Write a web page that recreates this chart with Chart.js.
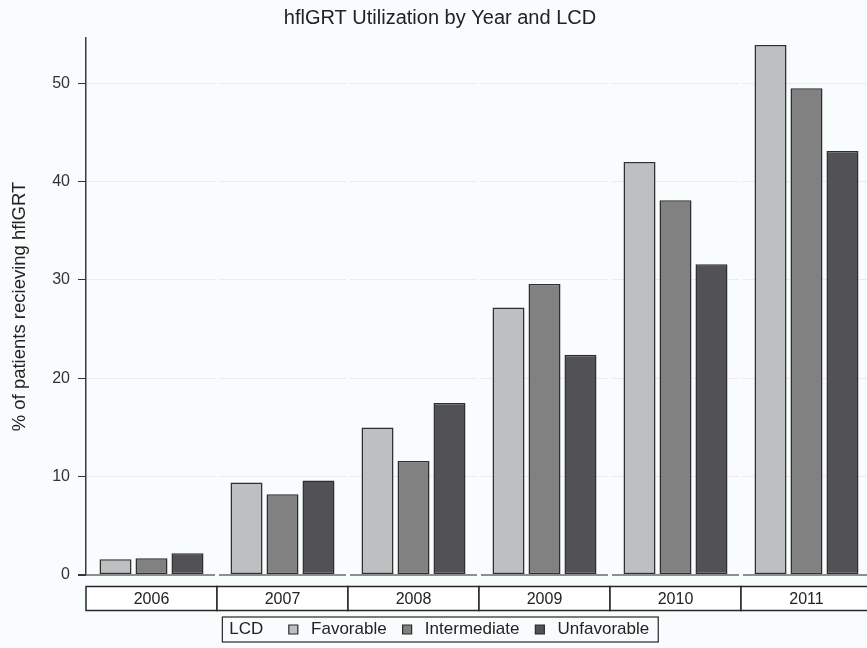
<!DOCTYPE html>
<html><head><meta charset="utf-8">
<script src="https://cdn.jsdelivr.net/npm/chart.js@4"></script>
<style>html,body{margin:0;padding:0;overflow:hidden;background:#f9fcfd;width:867px;height:648px}canvas{display:block}</style>
</head><body>
<canvas id="c" width="880" height="648"></canvas>
<script>
const years = ['2006', '2007', '2008', '2009', '2010', '2011'];
const favorable = [1.6, 9.4, 15.0, 27.2, 42.0, 53.9];
const intermediate = [1.7, 8.2, 11.6, 29.6, 38.1, 49.5];
const unfavorable = [2.2, 9.6, 17.5, 22.4, 31.6, 43.1];
const seriesNames = ['Favorable', 'Intermediate', 'Unfavorable'];
const legendTitle = 'LCD';
const yTicks = [0, 10, 20, 30, 40, 50];
const yMax = 54.6;

const BG = '#f9fcfd';
const FONT = 'Liberation Sans, Arial, sans-serif';
const colors = ['#bcc0c0', '#818181', '#525256'];
const outline = '#2e2e2e';
const LEGEND_FONT = 17;
const TRAIL = '    ';

const backgroundPlugin = {
  id: 'bgAndBoxes',
  beforeDraw(chart) {
    const ctx = chart.ctx;
    ctx.save();
    ctx.fillStyle = BG;
    ctx.fillRect(0, 0, chart.width, chart.height);
    const x = chart.scales.x;
    const step = x.getPixelForValue(1) - x.getPixelForValue(0);
    const top = chart.chartArea.bottom + 11.5, h = 24;
    ctx.lineWidth = 1.5;
    ctx.strokeStyle = '#262626';
    ctx.fillStyle = '#ffffff';
    years.forEach((y, i) => {
      const c = x.getPixelForValue(i);
      ctx.fillRect(c - step / 2, top, step, h);
      ctx.strokeRect(c - step / 2, top, step, h);
    });
    ctx.restore();
  }
};

const gapPlugin = {
  id: 'gaps',
  beforeDatasetsDraw(chart) {
    const ctx = chart.ctx;
    const x = chart.scales.x;
    const a = chart.chartArea;
    ctx.save();
    ctx.fillStyle = BG;
    for (let i = 1; i < years.length; i++) {
      const bx = (x.getPixelForValue(i - 1) + x.getPixelForValue(i)) / 2;
      ctx.fillRect(bx - 2, a.top, 4, a.bottom - a.top + 3);
    }
    ctx.restore();
  }
};

const legendFrame = {
  id: 'legendFrame',
  afterDraw(chart) {
    const lg = chart.legend;
    if (!lg || !lg.legendHitBoxes || !lg.legendHitBoxes.length) return;
    const hb = lg.legendHitBoxes;
    const first = hb[0], last = hb[hb.length - 1];
    const ctx = chart.ctx;
    ctx.save();
    ctx.font = LEGEND_FONT + 'px ' + FONT;
    const trailW = ctx.measureText(TRAIL).width;
    ctx.strokeStyle = '#262626';
    ctx.lineWidth = 1.2;
    const left = first.left + 10.5;
    const right = last.left + last.width - trailW + 9;
    const cy = first.top + LEGEND_FONT / 2;
    const top = cy - 12.5;
    const bottom = cy + 12.5;
    ctx.strokeRect(left, top, right - left, bottom - top);
    ctx.restore();
  }
};

new Chart(document.getElementById('c'), {
  type: 'bar',
  data: {
    labels: years,
    datasets: [
      { label: seriesNames[0], data: favorable, backgroundColor: colors[0] },
      { label: seriesNames[1], data: intermediate, backgroundColor: colors[1] },
      { label: seriesNames[2], data: unfavorable, backgroundColor: colors[2] }
    ].map(d => Object.assign(d, {
      borderColor: outline, borderWidth: 1.5, borderSkipped: false,
      categoryPercentage: 0.824, barPercentage: 0.89
    }))
  },
  options: {
    responsive: false,
    animation: false,
    devicePixelRatio: 1,
    layout: { padding: { top: 0, right: 8, bottom: 0, left: 8 } },
    plugins: {
      tooltip: { enabled: false },
      title: {
        display: true,
        text: 'hflGRT Utilization by Year and LCD',
        color: '#222',
        font: { family: FONT, size: 20, weight: 'normal' },
        padding: { top: 6, bottom: 8 }
      },
      legend: {
        position: 'bottom',
        onClick: () => {},
        labels: {
          boxWidth: 9, boxHeight: 9, padding: 16,
          color: '#222',
          font: { family: FONT, size: LEGEND_FONT },
          generateLabels: (chart) => {
            const items = [{ text: legendTitle + '  ', fillStyle: 'rgba(0,0,0,0)', strokeStyle: 'rgba(0,0,0,0)', lineWidth: 0, hidden: false, datasetIndex: -1, fontColor: '#222' }];
            const n = chart.data.datasets.length;
            chart.data.datasets.forEach((ds, i) => items.push({
              text: ' ' + ds.label + (i === n - 1 ? TRAIL : ''), fillStyle: ds.backgroundColor, strokeStyle: '#2b2b2b', lineWidth: 1.2, hidden: false, datasetIndex: i, fontColor: '#222'
            }));
            return items;
          }
        }
      }
    },
    scales: {
      x: {
        grid: { display: false, drawTicks: false },
        border: { display: false },
        ticks: { color: '#222', font: { family: FONT, size: 16 }, padding: 15, maxRotation: 0 },
        afterFit: s => { s.height = 30; }
      },
      y: {
        min: 0,
        max: yMax,
        afterBuildTicks: s => { s.ticks = yTicks.map(v => ({ value: v })); },
        afterFit: s => { s.width = 78; },
        grid: {
          color: c => (c.tick && c.tick.value === 0) ? '#8e8e8e' : '#f0e8ef',
          lineWidth: c => (c.tick && c.tick.value === 0) ? 2 : 1,
          tickColor: '#333',
          tickLength: 8,
          drawTicks: true
        },
        border: { display: true, color: '#3a3a3a', width: 1.5 },
        ticks: { color: '#333', font: { family: FONT, size: 16 }, padding: 8 },
        title: {
          display: true,
          text: '% of patients recieving hflGRT',
          color: '#222',
          font: { family: FONT, size: 18.5 },
          padding: { top: 1, bottom: 0 }
        }
      }
    }
  },
  plugins: [backgroundPlugin, gapPlugin, legendFrame]
});
</script>
</body></html>
